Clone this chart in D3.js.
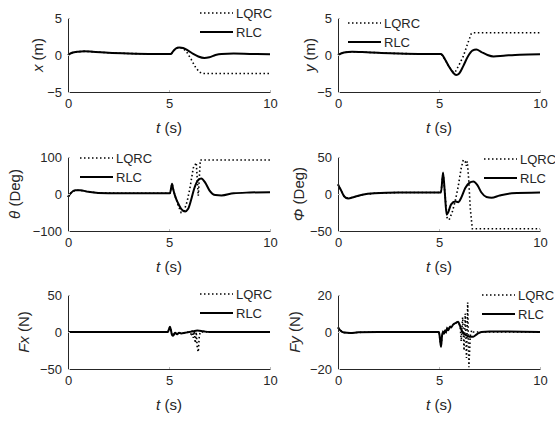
<!DOCTYPE html>
<html>
<head>
<meta charset="utf-8">
<script src="https://cdn.jsdelivr.net/npm/d3@7"></script>
<style>
  body { margin: 0; background: #fff; }
  svg { display: block; font-family: Arial, "Liberation Sans", sans-serif; }
</style>
</head>
<body>
<svg id="chart" width="555" height="421"></svg>
<script>
// time axis
const tTicks = [0, 5, 10]

// x (m)
const xRLC = [[0,0],[0.2,0.3],[0.5,0.45],[0.8,0.5],[1.2,0.45],[2,0.3],[3,0.2],[4,0.15],[5.1,0.15],[5.2,0.5],[5.35,0.9],[5.5,1.0],[5.7,0.95],[5.95,0.6],[6.2,0.15],[6.45,-0.2],[6.75,-0.4],[7.0,-0.3],[7.3,0.0],[7.6,0.15],[8.2,0.2],[9,0.15],[10,0.1]]
const xLQRC = [[0,0],[0.2,0.3],[0.5,0.45],[0.8,0.5],[1.2,0.45],[2,0.3],[3,0.2],[4,0.15],[5.1,0.15],[5.2,0.5],[5.35,0.9],[5.5,1.05],[5.7,0.9],[5.9,0.3],[6.1,-0.6],[6.3,-1.6],[6.5,-2.3],[6.65,-2.5],[10,-2.5]]

// y (m)
const yRLC = [[0,0],[0.3,0.35],[0.7,0.45],[1.2,0.4],[2,0.3],[3,0.2],[4,0.15],[5.1,0.15],[5.3,-0.6],[5.5,-1.6],[5.7,-2.4],[5.85,-2.7],[6.0,-2.5],[6.2,-1.5],[6.45,-0.1],[6.65,0.6],[6.85,0.75],[7.1,0.4],[7.4,0],[7.7,-0.2],[8.2,-0.1],[9,0.05],[10,0.1]]
const yLQRC = [[0,0],[0.3,0.35],[0.7,0.45],[1.2,0.4],[2,0.3],[3,0.2],[4,0.15],[5.1,0.15],[5.3,-0.6],[5.5,-1.6],[5.7,-2.3],[5.8,-2.3],[6.0,-1.3],[6.2,-0.2],[6.4,1.4],[6.6,2.9],[6.7,3.0],[10,3.0]]

// theta (Deg)
const thRLC = [[0,-8],[0.15,3],[0.35,10],[0.6,10],[1.0,6],[1.5,3],[2.5,2],[5.05,2],[5.15,28],[5.2,15],[5.3,-5],[5.45,-25],[5.6,-40],[5.8,-47],[5.95,-40],[6.1,-15],[6.25,15],[6.45,38],[6.6,42],[6.8,30],[7.0,10],[7.3,-3],[7.6,-4],[8.2,2],[9,4],[10,5]]
const thLQRC = [[0,-8],[0.15,3],[0.35,10],[0.6,10],[1.0,6],[1.5,3],[2.5,2],[5.05,2],[5.15,28],[5.2,15],[5.3,-5],[5.45,-30],[5.6,-50],[5.75,-45],[5.9,-20],[6.05,20],[6.2,70],[6.35,85],[6.45,-5],[6.55,92],[10,92]]

// Phi (Deg)
const phRLC = [[0,13],[0.15,5],[0.3,-3],[0.5,-6],[0.8,-4],[1.2,-1],[1.8,1],[3,2],[5.1,2],[5.2,29],[5.28,5],[5.38,-28],[5.45,-25],[5.6,-14],[5.8,-10],[5.95,-11],[6.1,-5],[6.3,8],[6.5,15],[6.7,17],[6.9,12],[7.1,2],[7.35,-4],[7.6,-5],[8.0,-2],[8.6,1],[10,2]]
const phLQRC = [[0,13],[0.15,5],[0.3,-3],[0.5,-6],[0.8,-4],[1.2,-1],[1.8,1],[3,2],[5.1,2],[5.2,29],[5.28,5],[5.4,-32],[5.5,-35],[5.65,-25],[5.8,-10],[5.95,10],[6.1,35],[6.2,46],[6.3,44],[6.35,38],[6.4,44],[6.47,20],[6.55,-20],[6.65,-47],[10,-47]]

// Fx (N)
const fxRLC = [[0,0],[4.95,0],[5.0,4],[5.05,7],[5.1,2],[5.15,-4],[5.2,-5],[5.3,-1],[5.4,-3],[5.5,-1],[5.6,-2],[5.8,-1],[6.0,0],[6.2,1],[6.4,2],[6.6,1.5],[6.8,0.5],[7.0,0],[10,0]]
const fxLQRC = [[0,0],[4.95,0],[5.0,4],[5.05,7],[5.1,2],[5.15,-4],[5.2,-5],[5.3,-1],[5.4,-3],[5.5,-1],[5.6,-2],[5.8,-1],[6.0,0],[6.1,-3],[6.15,2],[6.2,-8],[6.25,1],[6.3,-15],[6.35,0],[6.4,-22],[6.45,-27],[6.5,-5],[6.55,0],[10,0]]

// Fy (N)
const fyRLC = [[0,2.5],[0.1,1],[0.3,-0.3],[0.6,-0.5],[1.0,-0.2],[2,0],[5.0,0],[5.05,-4],[5.1,-8],[5.15,-2],[5.2,0],[5.25,-1],[5.3,1],[5.35,0],[5.4,2],[5.45,1],[5.55,3],[5.6,2.5],[5.7,4],[5.85,5],[5.95,5.5],[6.05,3],[6.15,0],[6.3,-1.5],[6.5,-2.5],[6.7,-2.5],[6.9,-1],[7.1,0],[7.5,0.3],[10,0]]
const fyLQRC = [[0,2.5],[0.1,1],[0.3,-0.3],[0.6,-0.5],[1.0,-0.2],[2,0],[5.0,0],[5.05,-4],[5.1,-8],[5.15,-2],[5.2,0],[5.25,-1],[5.3,1],[5.35,0],[5.4,2],[5.45,1],[5.55,3],[5.6,2.5],[5.7,4],[5.85,5],[5.95,5.5],[6.05,3],[6.1,-5],[6.17,8],[6.24,-10],[6.3,10],[6.36,-14],[6.42,16],[6.48,-19],[6.55,-2],[6.62,1],[6.7,0],[10,0]]

const legendNames = ['LQRC', 'RLC']

// layout
const colX = [68, 338]
const plotW = 202
const rowY = [18, 157, 295]
const plotH = 74

const panels = [
  { col: 0, row: 0, sym: 'x', unit: ' (m)', dom: [-5, 5], ticks: [-5, 0, 5], rlc: xRLC, lqrc: xLQRC, labelOff: 30, leg: [132, -5] },
  { col: 1, row: 0, sym: 'y', unit: ' (m)', dom: [-5, 5], ticks: [-5, 0, 5], rlc: yRLC, lqrc: yLQRC, labelOff: 28, leg: [10, 5] },
  { col: 0, row: 1, sym: 'θ', unit: ' (Deg)', dom: [-100, 100], ticks: [-100, 0, 100], rlc: thRLC, lqrc: thLQRC, labelOff: 53, leg: [12, 1] },
  { col: 1, row: 1, sym: 'Φ', unit: ' (Deg)', dom: [-50, 50], ticks: [-50, 0, 50], rlc: phRLC, lqrc: phLQRC, labelOff: 39, leg: [146, 2] },
  { col: 0, row: 2, sym: 'Fx', unit: ' (N)', dom: [-50, 50], ticks: [-50, 0, 50], rlc: fxRLC, lqrc: fxLQRC, labelOff: 44, leg: [132, -1] },
  { col: 1, row: 2, sym: 'Fy', unit: ' (N)', dom: [-20, 20], ticks: [-20, 0, 20], rlc: fyRLC, lqrc: fyLQRC, labelOff: 43, leg: [144, 0] }
]

const axisColor = '#262626'
const svg = d3.select('#chart')

panels.forEach(p => {
  const x0 = colX[p.col]
  const y0 = rowY[p.row]
  const g = svg.append('g').attr('transform', `translate(${x0},${y0})`)

  const x = d3.scaleLinear().domain([0, 10]).range([0, plotW])
  const y = d3.scaleLinear().domain(p.dom).range([plotH, 0])

  const line = d3.line().x(d => x(d[0])).y(d => y(d[1]))

  // data
  g.append('path')
    .datum(p.lqrc)
    .attr('fill', 'none')
    .attr('stroke', '#000')
    .attr('stroke-width', 1.6)
    .attr('stroke-dasharray', '1.5,2.5')
    .attr('d', line)

  g.append('path')
    .datum(p.rlc)
    .attr('fill', 'none')
    .attr('stroke', '#000')
    .attr('stroke-width', 2)
    .attr('stroke-linejoin', 'round')
    .attr('d', line.curve(d3.curveMonotoneX))

  // axes
  const xAxis = g.append('g')
    .attr('transform', `translate(0,${plotH})`)
    .call(d3.axisBottom(x).tickValues(tTicks).tickSizeInner(-2).tickSizeOuter(0).tickPadding(7))
  const yAxis = g.append('g')
    .call(d3.axisLeft(y).tickValues(p.ticks).tickSizeInner(-2).tickSizeOuter(0).tickPadding(6))

  ;[xAxis, yAxis].forEach(a => {
    a.select('.domain').attr('stroke', axisColor).attr('stroke-width', 1)
    a.selectAll('.tick line').attr('stroke', '#bbb')
    a.selectAll('.tick text').attr('fill', axisColor).style('font-size', '13px')
  })

  // x label
  const xl = g.append('text')
    .attr('x', plotW / 2)
    .attr('y', plotH + 41)
    .attr('text-anchor', 'middle')
    .attr('fill', axisColor)
    .style('font-size', '15px')
  xl.append('tspan').style('font-style', 'italic').text('t')
  xl.append('tspan').text(' (s)')

  // y label
  const yl = g.append('text')
    .attr('transform', `translate(${-p.labelOff},${plotH / 2}) rotate(-90)`)
    .attr('text-anchor', 'middle')
    .attr('dy', '0.35em')
    .attr('fill', axisColor)
    .style('font-size', '15px')
  yl.append('tspan').style('font-style', 'italic').text(p.sym)
  yl.append('tspan').text(p.unit)

  // legend
  const lg = g.append('g').attr('transform', `translate(${p.leg[0]},${p.leg[1]})`)
  legendNames.forEach((name, i) => {
    const row = lg.append('g').attr('transform', `translate(0,${i * 19})`)
    row.append('line')
      .attr('x1', 0).attr('x2', 33)
      .attr('stroke', '#000')
      .attr('stroke-width', i === 0 ? 1.6 : 2)
      .attr('stroke-dasharray', i === 0 ? '1.5,2.5' : null)
    row.append('text')
      .attr('x', 36)
      .attr('dy', '0.35em')
      .attr('fill', axisColor)
      .style('font-size', '13px')
      .text(name)
  })
})
</script>
</body>
</html>
